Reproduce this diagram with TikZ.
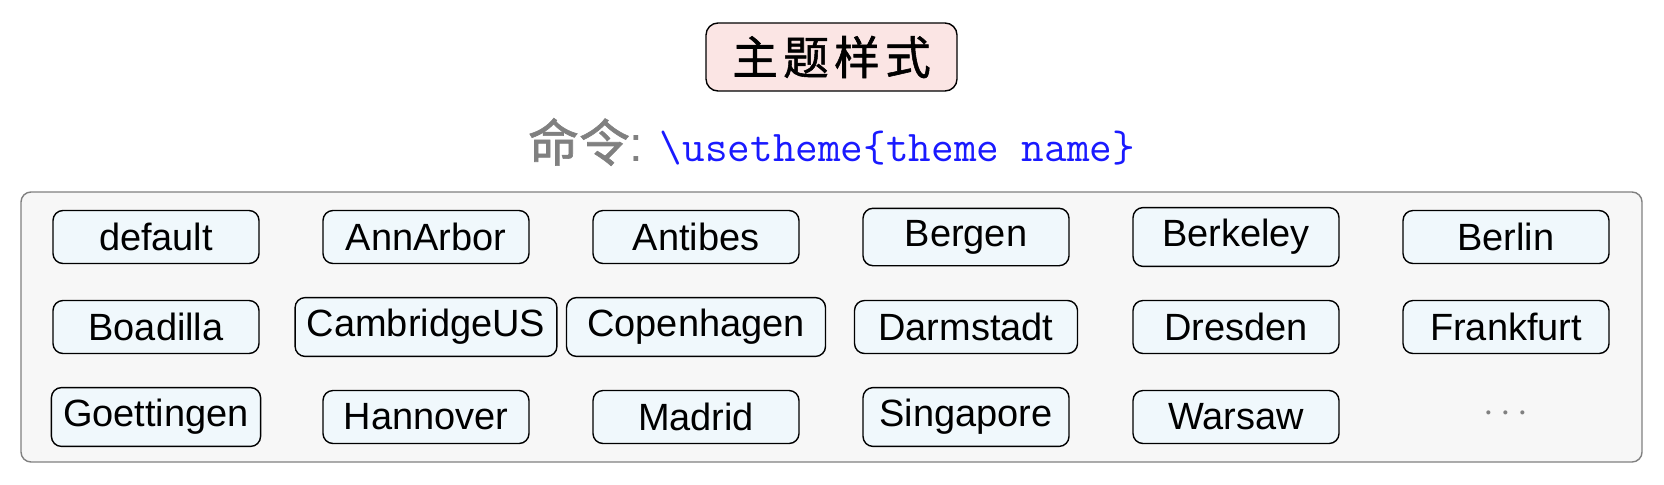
\documentclass[tikz,border=0pt]{standalone}
\usepackage{fontspec}
\setmainfont{Liberation Sans}
\newfontfamily\cjk{Noto Sans CJK SC}[FakeBold=1.2]
\usepackage{tikz}

\definecolor{titlepink}{HTML}{FBE5E4}
\definecolor{themeblue}{HTML}{F0F8FC}
\definecolor{panelgray}{HTML}{F7F7F7}
\definecolor{cmdgray}{HTML}{808080}
\definecolor{cmdblue}{HTML}{1A1AFF}

\begin{document}
\begin{tikzpicture}[font=\fontsize{10.8}{13}\selectfont,
  theme/.style={draw,rounded corners=1mm,fill=themeblue,minimum width=2.06cm,minimum height=0.53cm},
  titlebox/.style={draw,rounded corners=1.2mm,fill=titlepink,minimum width=2.51cm,minimum height=0.68cm},
  panelbox/.style={draw=gray,rounded corners=1mm,fill=panelgray}]
  \useasboundingbox (0,0) rectangle (16.64,4.84);

  \node[titlebox] (title) at (8.315,4.27) {\cjk\fontsize{13}{15}\selectfont 主\hspace{1.5pt}题\hspace{1.5pt}样\hspace{1.5pt}式};
  \node (cmd) at (8.315,3.42) {\fontsize{12.5}{15}\selectfont{\color{cmdgray}\cjk\fontsize{14.5}{15}\selectfont 命令}{\color{cmdgray}\fontsize{14}{15}\selectfont:} {\color{cmdblue}\ttfamily\textbackslash usetheme\{theme name\}}};

  \node[panelbox,minimum width=16.21cm,minimum height=2.70cm] (panel) at (8.315,1.57) {};

  % first row
  \node[theme] (default) at (1.56,2.47) {default};
  \node[theme] (annarbor) at (4.26,2.47) {AnnArbor};
  \node[theme] (antibes) at (6.96,2.47) {Antibes};
  \node[theme] (bergen) at (9.66,2.47) {Bergen};
  \node[theme] (berkeley) at (12.36,2.47) {Berkeley};
  \node[theme] (berlin) at (15.06,2.47) {Berlin};

  % second row
  \node[theme] (boadilla) at (1.56,1.57) {Boadilla};
  \node[theme] (cambridge) at (4.26,1.57) {CambridgeUS};
  \node[theme,minimum width=2.59cm] (copenhagen) at (6.96,1.57) {Copenhagen};
  \node[theme,minimum width=2.23cm] (darmstadt) at (9.66,1.57) {Darmstadt};
  \node[theme] (dresden) at (12.36,1.57) {Dresden};
  \node[theme] (frankfurt) at (15.06,1.57) {Frankfurt};

  % third row
  \node[theme] (goettingen) at (1.56,0.67) {Goettingen};
  \node[theme] (hannover) at (4.26,0.67) {Hannover};
  \node[theme] (madrid) at (6.96,0.67) {Madrid};
  \node[theme] (singapore) at (9.66,0.67) {Singapore};
  \node[theme] (warsaw) at (12.36,0.67) {Warsaw};
  \node[text=cmdgray] (more) at (15.06,0.70) {$\cdots$};
\end{tikzpicture}
\end{document}
